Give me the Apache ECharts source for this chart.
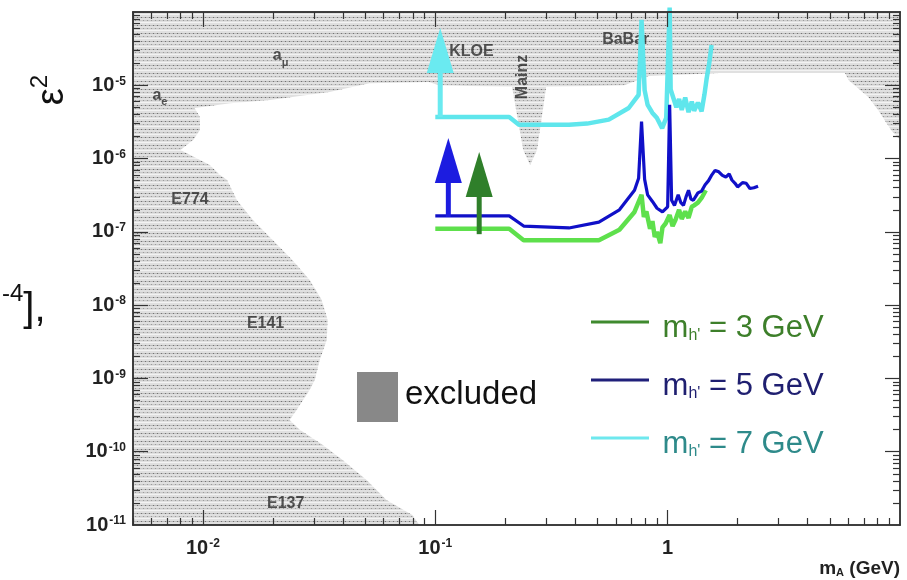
<!DOCTYPE html>
<html>
<head>
<meta charset="utf-8">
<script src="https://cdn.jsdelivr.net/npm/echarts@6/dist/echarts.min.js"></script>
<style>
  html, body { margin: 0; padding: 0; background: #fff; }
  #chart { width: 907px; height: 580px; }
</style>
</head>
<body>
<div id="chart"></div>
<script>
// axis ranges and tick values
var xMin = 0.005, xMax = 10;
var yMin = 1e-11, yMax = 1e-4;
var xMajor = [0.01, 0.1, 1];
var yMajor = [1e-10, 1e-9, 1e-8, 1e-7, 1e-6, 1e-5];
var yLabels = [1e-11, 1e-10, 1e-9, 1e-8, 1e-7, 1e-6, 1e-5];
var minorSteps = [2, 3, 4, 5, 6, 7, 8, 9];

// excluded region outline (m_A in GeV, eps^2)
var exclMass = [0.005, 0.005, 10, 10, 9.15, 8.05, 7.3, 6.0, 5.8, 1.66, 0.83, 0.65, 0.30,
  0.274, 0.256, 0.239, 0.214, 0.104, 0.094, 0.052, 0.035, 0.0194, 0.0131, 0.0092, 0.0097,
  0.0097, 0.0091, 0.0080, 0.0107, 0.0118, 0.0127, 0.0140, 0.0164, 0.0200, 0.0243, 0.0288,
  0.0324, 0.0344, 0.0341, 0.0318, 0.0303, 0.0288, 0.0253, 0.0236, 0.0261, 0.0327, 0.0399,
  0.0506, 0.0616, 0.0796, 0.0854];
var exclEps = [1e-11, 1e-4, 1e-4, 1.8e-6, 2.45e-6, 4.6e-6, 6.9e-6, 1.18e-5, 1.47e-5, 1.47e-5,
  1.34e-5, 1.0e-5, 9.5e-6, 1.31e-6, 8.2e-7, 1.31e-6, 9.5e-6, 1.0e-5, 1.11e-5, 1.07e-5, 8.1e-6,
  6.3e-6, 5.7e-6, 4.9e-6, 3.7e-6, 2.45e-6, 1.8e-6, 1.31e-6, 8.2e-7, 6.0e-7, 5.1e-7, 2.7e-7,
  1.45e-7, 7.7e-8, 4.1e-8, 2.2e-8, 1.18e-8, 6.3e-9, 3.35e-9, 1.79e-9, 9.5e-10, 7.0e-10,
  3.7e-10, 2.7e-10, 2.0e-10, 1.24e-10, 7.7e-11, 4.1e-11, 2.2e-11, 1.37e-11, 1e-11];

// experiment labels inside the excluded region
var regionNames = ['a_μ', 'a_e', 'E774', 'E141', 'E137', 'KLOE', 'Mainz', 'BaBar'];
var regionMass = [0.0216, 0.00653, 0.0088, 0.0186, 0.0227, 0.143, 0.243, 0.66];
var regionEps = [2.35e-5, 6.9e-6, 2.56e-7, 5.2e-9, 1.82e-11, 2.67e-5, 1.3e-5, 4.0e-5];

// reach curves
var massCyan = [0.1, 0.208, 0.229, 0.376, 0.45, 0.558, 0.68, 0.75, 0.772, 0.796, 0.82, 0.86,
  0.898, 0.947, 0.986, 1.02, 1.03, 1.06, 1.09, 1.12, 1.15, 1.19, 1.23, 1.27, 1.30, 1.35, 1.40,
  1.44, 1.47, 1.51, 1.545];
var epsCyan = [3.7e-6, 3.7e-6, 2.9e-6, 2.9e-6, 3.0e-6, 3.4e-6, 4.9e-6, 7.4e-6, 7.8e-5, 8.6e-6,
  5.4e-6, 4.2e-6, 3.6e-6, 2.6e-6, 3.6e-6, 1.15e-4, 8.8e-6, 6.6e-6, 5.0e-6, 6.5e-6, 4.6e-6,
  6.8e-6, 4.3e-6, 6.0e-6, 4.5e-6, 5.8e-6, 4.4e-6, 7.5e-6, 1.2e-5, 2.0e-5, 3.55e-5];

var massBlue = [0.1, 0.208, 0.24, 0.376, 0.506, 0.62, 0.72, 0.75, 0.772, 0.796, 0.82, 0.86,
  0.9, 0.95, 1.0, 1.02, 1.04, 1.07, 1.11, 1.14, 1.17, 1.2, 1.23, 1.26, 1.29, 1.35, 1.4, 1.45,
  1.5, 1.55, 1.6, 1.66, 1.72, 1.78, 1.84, 1.89, 1.95, 2.0, 2.1, 2.18, 2.26, 2.35, 2.45];
var epsBlue = [1.65e-7, 1.65e-7, 1.2e-7, 1.13e-7, 1.36e-7, 2.0e-7, 3.7e-7, 5.4e-7, 3.2e-6,
  5.2e-7, 3.2e-7, 2.6e-7, 2.1e-7, 1.87e-7, 2.2e-7, 5.4e-6, 2.7e-7, 2.3e-7, 3.2e-7, 2.5e-7,
  2.3e-7, 3.0e-7, 3.7e-7, 2.8e-7, 2.7e-7, 3.4e-7, 3.6e-7, 4.4e-7, 5.0e-7, 6.0e-7, 6.9e-7,
  6.6e-7, 5.9e-7, 5.6e-7, 6.2e-7, 5.1e-7, 4.6e-7, 4.1e-7, 4.7e-7, 4.6e-7, 3.9e-7, 4.0e-7, 4.2e-7];

var massGreen = [0.1, 0.208, 0.24, 0.506, 0.62, 0.72, 0.772, 0.79, 0.81, 0.84, 0.86, 0.88,
  0.9, 0.93, 0.95, 0.98, 1.02, 1.05, 1.08, 1.12, 1.15, 1.19, 1.23, 1.27, 1.3, 1.35, 1.4, 1.46];
var epsGreen = [1.1e-7, 1.1e-7, 7.7e-8, 7.7e-8, 1.07e-7, 1.87e-7, 3.2e-7, 1.6e-7, 1.9e-7,
  1.1e-7, 1.4e-7, 8.5e-8, 1.0e-7, 7.0e-8, 1.15e-7, 1.3e-7, 1.7e-7, 1.2e-7, 1.45e-7, 2.0e-7,
  1.5e-7, 1.9e-7, 1.55e-7, 2.2e-7, 2.3e-7, 2.5e-7, 2.9e-7, 3.7e-7];

// arrows at the low-mass end (mass, start, tip)
var arrowMass = [0.105, 0.1138, 0.1545];
var arrowFrom = [3.7e-6, 1.6e-7, 9.3e-8];
var arrowTip = [6.05e-5, 1.91e-6, 1.23e-6];
var arrowColors = ['#6aeaf0', '#1c1ce0', '#2f7f2a'];

var seriesNames = ["m_h' = 3 GeV", "m_h' = 5 GeV", "m_h' = 7 GeV"];
var lineColors = ['#5ee04c', '#1010c8', '#5fe6ec'];
var legendLineColors = ['#3f8a2e', '#20207a', '#6ee8ee'];
var legendTextColors = ['#3d7f2a', '#1f1f70', '#2e8a8a'];

(function () {
  var frame = '#333';
  var font = '"Liberation Sans", Arial, sans-serif';

  function zip(a, b) {
    return a.map(function (v, i) { return [v, b[i]]; });
  }

  function minors(decades) {
    var out = [];
    decades.forEach(function (d) {
      minorSteps.forEach(function (s) { out.push(s * d); });
    });
    return out;
  }

  var xMinor = minors([0.001, 0.01, 0.1, 1]).filter(function (v) { return v >= xMin && v <= xMax; });
  var yMinor = minors([1e-11, 1e-10, 1e-9, 1e-8, 1e-7, 1e-6, 1e-5]);

  function hatch() {
    var c = document.createElement('canvas');
    c.width = 8; c.height = 8;
    var g = c.getContext('2d');
    g.fillStyle = '#e0e0e0'; g.fillRect(0, 0, 8, 8);
    g.fillStyle = '#bdbdbd'; g.fillRect(0, 1, 8, 1);
    g.fillStyle = '#737373'; g.fillRect(1, 1, 1, 1); g.fillRect(5, 1, 1, 1);
    g.fillStyle = '#cbcbcb'; g.fillRect(0, 4, 8, 1);
    g.fillStyle = '#9a9a9a'; g.fillRect(3, 4, 1, 1); g.fillRect(7, 4, 1, 1);
    g.fillStyle = '#f2f2f2'; g.fillRect(0, 6, 8, 1);
    return c;
  }
  var hatchImg = hatch();

  function powLabel(v) {
    var e = Math.round(Math.log10(v));
    if (Math.abs(Math.log10(v) - e) > 1e-6) return '';
    if (e === 0) return '{b|1}';
    return '{b|10}{e|' + e + '}';
  }
  var powRich = {
    b: { fontSize: 20, fontWeight: 'bold', color: '#222', fontFamily: font },
    e: { fontSize: 12, fontWeight: 'bold', color: '#222', fontFamily: font, verticalAlign: 'top', padding: [0, 0, 0, 1] }
  };

  function axisCfg(kind, pos, ticks, len, labels) {
    var isX = kind === 'x';
    return {
      type: 'log',
      logBase: 10,
      min: isX ? xMin : yMin,
      max: isX ? xMax : yMax,
      position: pos,
      z: 10,
      axisLine: { show: true, lineStyle: { color: frame, width: 1.5 } },
      axisTick: { show: true, inside: true, length: len, customValues: ticks, lineStyle: { color: frame, width: 1.2 } },
      axisLabel: labels ? {
        show: true,
        showMinLabel: true,
        customValues: isX ? xMajor : yLabels,
        margin: isX ? 13 : 7,
        formatter: powLabel,
        rich: powRich
      } : { show: false },
      splitLine: { show: false },
      minorTick: { show: false }
    };
  }

  var chart = echarts.init(document.getElementById('chart'), null, { renderer: 'canvas' });

  var legendData = seriesNames.map(function (n, i) {
    return {
      name: n,
      itemStyle: { color: legendLineColors[i] },
      lineStyle: { color: legendLineColors[i] }
    };
  });
  var legendRich = {};
  legendTextColors.forEach(function (c, i) {
    legendRich['m' + i] = { fontSize: 31, color: c, fontFamily: font, lineHeight: 44, verticalAlign: 'bottom' };
    legendRich['s' + i] = { fontSize: 16, color: c, fontFamily: font, verticalAlign: 'bottom', lineHeight: 16 };
  });

  chart.setOption({
    animation: false,
    backgroundColor: '#fff',
    grid: { left: 133, right: 7, top: 12, bottom: 55, show: false },
    xAxis: [
      axisCfg('x', 'bottom', xMajor, 15, true),
      axisCfg('x', 'bottom', xMinor, 7, false),
      axisCfg('x', 'top', xMajor, 15, false),
      axisCfg('x', 'top', xMinor, 7, false)
    ],
    yAxis: [
      axisCfg('y', 'left', yMajor, 15, true),
      axisCfg('y', 'left', yMinor, 7, false),
      axisCfg('y', 'right', yMajor, 15, false),
      axisCfg('y', 'right', yMinor, 7, false)
    ],
    legend: {
      orient: 'vertical',
      left: 586,
      top: 308,
      itemWidth: 58,
      itemHeight: 3,
      itemGap: 27,
      icon: 'rect',
      selectedMode: false,
      data: legendData,
      formatter: function (name) {
        var i = seriesNames.indexOf(name);
        var rest = name.split("m_h'")[1];
        return '{m' + i + '| m}{s' + i + "|h'}{m" + i + '|' + rest + '}';
      },
      textStyle: { fontFamily: font, fontSize: 31, rich: legendRich }
    },
    graphic: [
      { type: 'rect', left: 357, top: 372, shape: { width: 41, height: 50 }, style: { fill: '#888' } },
      { type: 'text', left: 405, top: 378, style: { text: 'excluded', font: '33px ' + font, fill: '#111' } },
      {
        type: 'text', x: 900, y: 566,
        style: {
          text: '{m|m}{s|A}{m| (GeV)}', align: 'right', verticalAlign: 'middle',
          rich: {
            m: { font: 'bold 19px ' + font, fill: '#222', verticalAlign: 'bottom', lineHeight: 24 },
            s: { font: 'bold 11px ' + font, fill: '#222', verticalAlign: 'bottom', lineHeight: 11 }
          }
        }
      },
      {
        type: 'text', x: 50, y: 90, rotation: Math.PI / 2,
        style: {
          text: '{e|ε}{s|2}', align: 'center', verticalAlign: 'middle',
          rich: {
            e: { font: '38px ' + font, fill: '#111', verticalAlign: 'bottom', lineHeight: 44 },
            s: { font: '24px ' + font, fill: '#111', verticalAlign: 'top', lineHeight: 24 }
          }
        }
      },
      {
        type: 'text', x: 2, y: 306,
        style: {
          text: '{s|-4}{b|],}', align: 'left', verticalAlign: 'middle',
          rich: {
            s: { font: '24px ' + font, fill: '#111', verticalAlign: 'top', lineHeight: 24 },
            b: { font: '40px ' + font, fill: '#111', verticalAlign: 'bottom', lineHeight: 48 }
          }
        }
      }
    ],
    series: [
      {
        type: 'custom',
        name: 'excluded',
        coordinateSystem: 'cartesian2d',
        silent: true,
        clip: true,
        z: 1,
        data: zip(exclMass, exclEps),
        renderItem: function (params, api) {
          if (params.dataIndex !== 0) return null;
          var pts = exclMass.map(function (m, i) { return api.coord([m, exclEps[i]]); });
          return {
            type: 'polygon',
            shape: { points: pts },
            style: { fill: { image: hatchImg, repeat: 'repeat' }, stroke: null }
          };
        }
      },
      {
        type: 'scatter',
        name: 'labels',
        silent: true,
        symbolSize: 0,
        z: 3,
        data: regionNames.map(function (n, i) {
          var item = { name: n, value: [regionMass[i], regionEps[i]] };
          if (n === 'Mainz') item.label = { rotate: 90 };
          return item;
        }),
        label: {
          show: true,
          position: 'inside',
          formatter: function (p) {
            var parts = p.name.split('_');
            return parts.length > 1 ? '{t|' + parts[0] + '}{u|' + parts[1] + '}' : '{t|' + parts[0] + '}';
          },
          rich: {
            t: { fontSize: 16, fontWeight: 'bold', color: '#2a2a2a', fontFamily: font, verticalAlign: 'top', lineHeight: 20 },
            u: { fontSize: 11, fontWeight: 'bold', color: '#2a2a2a', fontFamily: font, verticalAlign: 'bottom', lineHeight: 11 }
          }
        }
      },
      {
        name: seriesNames[2], type: 'line', data: zip(massCyan, epsCyan),
        symbol: 'none', z: 4, clip: false,
        lineStyle: { color: lineColors[2], width: 4.5 }, itemStyle: { color: lineColors[2] }
      },
      {
        name: seriesNames[0], type: 'line', data: zip(massGreen, epsGreen),
        symbol: 'none', z: 4,
        lineStyle: { color: lineColors[0], width: 4.5 }, itemStyle: { color: lineColors[0] }
      },
      {
        name: seriesNames[1], type: 'line', data: zip(massBlue, epsBlue),
        symbol: 'none', z: 5,
        lineStyle: { color: lineColors[1], width: 3.2 }, itemStyle: { color: lineColors[1] }
      },
      {
        type: 'custom',
        name: 'arrows',
        coordinateSystem: 'cartesian2d',
        silent: true,
        z: 6,
        encode: { x: 0, y: [1, 2] },
        data: arrowMass.map(function (m, i) { return [m, arrowFrom[i], arrowTip[i], i]; }),
        renderItem: function (params, api) {
          var base = api.coord([api.value(0), api.value(1)]);
          var tip = api.coord([api.value(0), api.value(2)]);
          var col = arrowColors[api.value(3)];
          var hw = 13.5, hh = 45;
          return {
            type: 'group',
            children: [
              { type: 'line', shape: { x1: base[0], y1: base[1], x2: tip[0], y2: tip[1] + hh - 1 }, style: { stroke: col, lineWidth: 5 } },
              { type: 'polygon', shape: { points: [[tip[0], tip[1]], [tip[0] - hw, tip[1] + hh], [tip[0] + hw, tip[1] + hh]] }, style: { fill: col } }
            ]
          };
        }
      }
    ]
  });
  window.addEventListener('resize', function () { chart.resize(); });
})();
</script>
</body>
</html>
